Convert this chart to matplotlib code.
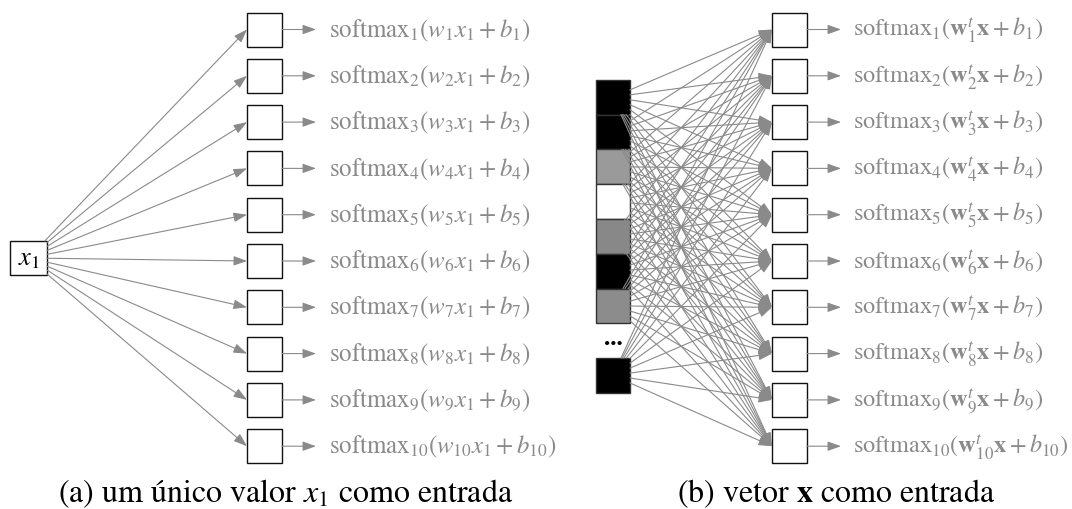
import numpy as np
import matplotlib.pyplot as plt
from matplotlib.patches import Rectangle, FancyArrowPatch

plt.rcParams['mathtext.fontset'] = 'stix'
plt.rcParams['font.family'] = ['STIXGeneral', 'DejaVu Serif']

# data
out_index = [1, 2, 3, 4, 5, 6, 7, 8, 9, 10]
labels_a = [r'$\mathrm{softmax}_{%d}(w_{%d}x_{1}+b_{%d})$' % (i, i, i) for i in out_index]
labels_b = [r'$\mathrm{softmax}_{%d}(\mathbf{w}_{%d}^{t}\mathbf{x}+b_{%d})$' % (i, i, i) for i in out_index]
input_shades = ['#000000', '#000000', '#9a9a9a', '#ffffff', '#888888', '#000000', '#8c8c8c']
last_shade = '#000000'
caption_a = r'(a) um único valor $x_1$ como entrada'
caption_b = r'(b) vetor $\mathbf{x}$ como entrada'

gray = '#8a8a8a'
lw = 0.8
box_w, box_h = 35, 34
row_y0, row_dy = 30.5, 46.3


def clip(cx, cy, hw, hh, px, py):
    dx, dy = px - cx, py - cy
    t = min(hw / abs(dx) if dx else 1e9, hh / abs(dy) if dy else 1e9)
    return cx + t * dx, cy + t * dy


def arrow(ax, p0, p1):
    a = FancyArrowPatch(p0, p1, arrowstyle='-|>,head_length=0.45,head_width=0.16',
                        mutation_scale=18, color=gray, lw=lw, shrinkA=0, shrinkB=0, zorder=3)
    ax.add_patch(a)


fig = plt.figure(figsize=(10.72, 5.10), dpi=100)
ax = fig.add_axes([0, 0, 1, 1])
ax.set_xlim(0, 1072)
ax.set_ylim(510, 0)
ax.axis('off')

# ---- panel (a)
x1_cx, x1_cy = 28.5, 259
ax.add_patch(Rectangle((x1_cx - 18.5, x1_cy - 17), 37, 34, fc='white', ec='#111111', lw=1.0, zorder=2))
ax.text(x1_cx, x1_cy, r'$x_1$', fontsize=19, ha='center', va='center', zorder=4)
out_left_a = 247
for k, lab in enumerate(labels_a):
    cy = row_y0 + k * row_dy
    ax.add_patch(Rectangle((out_left_a, cy - box_h / 2), box_w, box_h, fc='white', ec='#111111', lw=1.0, zorder=2))
    p0 = clip(x1_cx, x1_cy, 18.5, 17, out_left_a, cy)
    arrow(ax, p0, (out_left_a, cy))
    arrow(ax, (out_left_a + box_w, cy), (out_left_a + box_w + 34, cy))
    ax.text(out_left_a + box_w + 47, cy, lab, fontsize=17.9, color=gray, ha='left', va='center')

# ---- panel (b)
in_left, in_w, in_h, in_top = 596, 34, 34.8, 80.7
in_rects = []
for j, sh in enumerate(input_shades):
    in_rects.append((in_left, in_top + j * in_h, sh))
in_rects.append((in_left, 359, last_shade))
for (x, y, sh) in in_rects:
    ax.add_patch(Rectangle((x, y), in_w, in_h, fc=sh, ec='#333333', lw=1.0, zorder=1))
ax.text(in_left + in_w / 2, 339, '...', fontsize=18, fontweight='bold', ha='center', va='center')

out_left_b = 772
for k, lab in enumerate(labels_b):
    cy = row_y0 + k * row_dy
    ax.add_patch(Rectangle((out_left_b, cy - box_h / 2), box_w, box_h, fc='white', ec='#111111', lw=1.0, zorder=2))
    for (x, y, sh) in in_rects:
        p0 = clip(x + in_w / 2, y + in_h / 2, in_w / 2, in_h / 2, out_left_b, cy)
        arrow(ax, p0, (out_left_b, cy))
    arrow(ax, (out_left_b + box_w, cy), (out_left_b + box_w + 34, cy))
    ax.text(out_left_b + box_w + 46, cy, lab, fontsize=17.5, color=gray, ha='left', va='center')

# captions
ax.text(286, 494, caption_a, fontsize=23, ha='center', va='center')
ax.text(836, 494, caption_b, fontsize=23, ha='center', va='center')

plt.savefig('out.png', dpi=100)
